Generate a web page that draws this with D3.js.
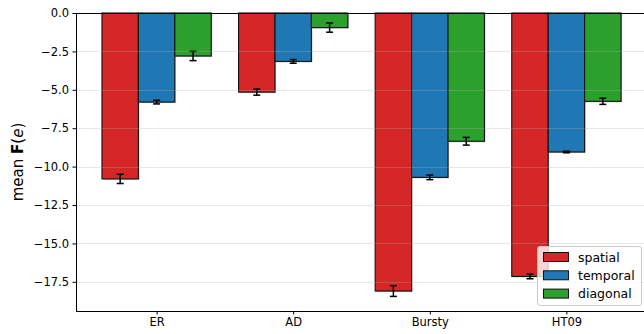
<!DOCTYPE html>
<html><head><meta charset="utf-8">
<script src="https://cdn.jsdelivr.net/npm/d3@7"></script>
<style>body{margin:0;background:#fff}svg{display:block}text{font-family:"DejaVu Sans",sans-serif}</style>
</head><body><svg id="c" width="644" height="334"></svg>
<script>
const categories = ["ER", "AD", "Bursty", "HT09"];
const seriesNames = ["spatial", "temporal", "diagonal"];
const colors = ["#d62728", "#1f77b4", "#2ca02c"];
const spatial = [-10.8, -5.15, -18.1, -17.15];
const temporal = [-5.8, -3.15, -10.7, -9.05];
const diagonal = [-2.8, -0.95, -8.35, -5.75];
const spatialErr = [0.3, 0.2, 0.35, 0.15];
const temporalErr = [0.12, 0.12, 0.15, 0.05];
const diagonalErr = [0.3, 0.3, 0.25, 0.2];
const yTicks = [0, -2.5, -5, -7.5, -10, -12.5, -15, -17.5];

const values = [spatial, temporal, diagonal];
const errs = [spatialErr, temporalErr, diagonalErr];

const svg = d3.select("#c");
const L = 76, T = 13, B = 311, R = 647;
const x = d3.scaleLinear().domain([-0.59, 3.59]).range([L, R]);
const y = d3.scaleLinear().domain([0, -19.4]).range([T, B]);
const bw = 0.8 / 3;

// bars
const g = svg.append("g");
values.forEach((vals, s) => {
  vals.forEach((v, i) => {
    const x0 = x(i - 0.4 + s * bw), x1 = x(i - 0.4 + (s + 1) * bw);
    g.append("rect").attr("x", x0 + 1).attr("y", y(0) + 1).attr("width", x1 - x0).attr("height", y(v) - y(0))
      .attr("fill", "#000").attr("opacity", 0.25);
    g.append("rect").attr("x", x0).attr("y", y(0)).attr("width", x1 - x0).attr("height", y(v) - y(0))
      .attr("fill", colors[s]).attr("stroke", "#111").attr("stroke-width", 1.1);
  });
});
// error bars
values.forEach((vals, s) => {
  vals.forEach((v, i) => {
    const cx = x(i - 0.4 + (s + 0.5) * bw);
    const e = errs[s][i];
    const eg = svg.append("g").attr("stroke", "#000").attr("stroke-width", 1.5);
    eg.append("line").attr("x1", cx).attr("x2", cx).attr("y1", y(v + e)).attr("y2", y(v - e));
    [v + e, v - e].forEach(yy => eg.append("line").attr("x1", cx - 3.5).attr("x2", cx + 3.5).attr("y1", y(yy)).attr("y2", y(yy)));
  });
});
// grid on top with alpha
yTicks.slice(1).forEach(t => {
  svg.append("line").attr("x1", L).attr("x2", 644).attr("y1", Math.round(y(t)) + 0.5).attr("y2", Math.round(y(t)) + 0.5)
    .attr("stroke", "#b0b0b0").attr("stroke-opacity", 0.3).attr("stroke-width", 1);
});

// axes
const fmt = d => (d === 0 ? "0.0" : d3.format(".1f")(d).replace("-", "\u2212"));
const yAxis = d3.axisLeft(y).tickValues(yTicks).tickFormat(fmt).tickSize(3.5).tickPadding(3.5);
const ya = svg.append("g").attr("transform", `translate(${L},0)`).call(yAxis);
ya.select(".domain").attr("stroke", "#000").attr("stroke-width", 1).attr("d", `M0.5,${T}V${B}`);
ya.selectAll("text").attr("font-size", 11.5).attr("fill", "#000").attr("font-family", "DejaVu Sans");
const xAxis = d3.axisBottom(x).tickValues([0, 1, 2, 3]).tickFormat(i => categories[i]).tickSize(3.5).tickPadding(3.5);
const xa = svg.append("g").attr("transform", `translate(0,${B})`).call(xAxis);
xa.select(".domain").attr("stroke", "#000").attr("d", `M${L},0.5H644`);
xa.selectAll("text").attr("font-size", 11.5).attr("fill", "#000").attr("font-family", "DejaVu Sans");
// top spine
svg.append("line").attr("x1", L).attr("x2", 644).attr("y1", T + 0.5).attr("y2", T + 0.5).attr("stroke", "#000").attr("stroke-width", 1);

// y label
const yl = svg.append("text").attr("transform", `translate(23,${(T + B) / 2}) rotate(-90)`)
  .attr("text-anchor", "middle").attr("font-size", 15).attr("fill", "#000");
yl.append("tspan").text("mean ");
yl.append("tspan").attr("font-weight", "bold").text("F");
yl.append("tspan").text("(");
yl.append("tspan").attr("font-style", "italic").text("e");
yl.append("tspan").text(")");

// legend
const lg = svg.append("g").attr("transform", "translate(537,246)");
lg.append("rect").attr("x", 0.5).attr("y", 0.5).attr("width", 104).attr("height", 59).attr("rx", 2.5)
  .attr("fill", "#fff").attr("fill-opacity", 0.8).attr("stroke", "#ccc");
seriesNames.forEach((n, s) => {
  lg.append("rect").attr("x", 6.5).attr("y", 6.5 + s * 18.3).attr("width", 25).attr("height", 9)
    .attr("fill", colors[s]).attr("stroke", "#111").attr("stroke-width", 1);
  lg.append("text").attr("x", 41).attr("y", 15.5 + s * 18.3).attr("font-size", 12.5).attr("fill", "#000").text(n);
});
</script></body></html>
